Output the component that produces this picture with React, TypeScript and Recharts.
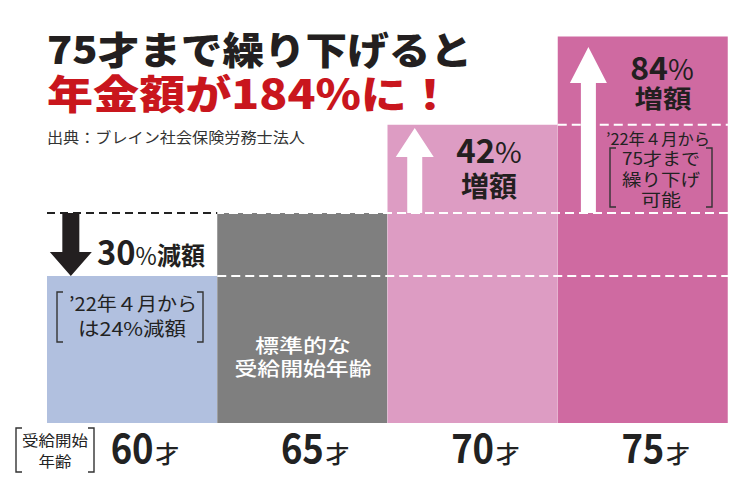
import React from 'react';
import { BarChart, Bar, XAxis, YAxis, Cell, ReferenceLine } from 'recharts';

// pension level (%) by the age you start receiving it
const ages = [60, 65, 70, 75];
const pension = [70, 100, 142, 184];
const barColors = ['#b1c0df', '#7f7f7f', '#dd9cc3', '#cf6aa1'];

// arrows: x position (age units), from value, to value
const arrowX = [58.2, 68.3, 73.4];
const arrowFrom = [100, 100, 100];
const arrowTo = [70, 140.5, 179];

const FONT = "'Noto Sans CJK JP', 'Noto Sans', sans-serif";
const data = ages.map((age, i) => ({ age, value: pension[i] }));

const AgeTick = (props: any) => {
  const { x, y, payload } = props;
  return (
    <g>
      <text x={x} y={y + 40} textAnchor="middle" fontSize={40} fontWeight={700} fill="#222" fontFamily={FONT}
        textLength={43} lengthAdjust="spacingAndGlyphs">
        {payload.value}
      </text>
      <text x={x + 23} y={y + 40} fontSize={24} fontWeight={500} fill="#222" fontFamily={FONT}>才</text>
    </g>
  );
};

const makeArrow = (color: string, shaft: number, head: number, headLen: number) => (p: any) => {
  const { x1, y1, x2, y2 } = p;
  const dir = y2 > y1 ? 1 : -1;
  const base = y2 - dir * headLen;
  const pts = [
    [x1 - shaft / 2, y1], [x1 + shaft / 2, y1], [x1 + shaft / 2, base], [x1 + head / 2, base],
    [x2, y2], [x1 - head / 2, base], [x1 - shaft / 2, base],
  ].map((q) => q.join(',')).join(' ');
  return <polygon points={pts} fill={color} />;
};

const Bracket = ({ x1, x2, y1, y2 }: any) => (
  <g fill="none" stroke="#333" strokeWidth={1.4}>
    <path d={`M${x1 + 6},${y1} H${x1} V${y2} H${x1 + 6}`} />
    <path d={`M${x2 - 6},${y1} H${x2} V${y2} H${x2 - 6}`} />
  </g>
);

export default function App() {
  return (
    <div style={{ position: 'absolute', left: 0, top: 0, width: 750, height: 500, background: '#fff', fontFamily: FONT }}>
      <BarChart width={750} height={500} data={data} margin={{ top: 3, right: 22, left: 47, bottom: 0 }} barCategoryGap={0} barGap={0}>
        <XAxis dataKey="age" type="number" domain={[57.5, 77.5]} ticks={ages} interval={0} height={77}
          axisLine={false} tickLine={false} tickSize={0} tickMargin={0} tick={<AgeTick />} />
        <YAxis hide domain={[0, 200]} />
        <Bar dataKey="value" isAnimationActive={false}>
          {data.map((d, i) => <Cell key={d.age} fill={barColors[i]} />)}
        </Bar>
        <ReferenceLine y={100} stroke="#fff" strokeWidth={2} strokeDasharray="9 5" />
        <ReferenceLine segment={[{ x: 57.5, y: 100 }, { x: 62.5, y: 100 }]} stroke="#222" strokeWidth={2} strokeDasharray="8 5" />
        <ReferenceLine segment={[{ x: 62.5, y: 70 }, { x: 77.5, y: 70 }]} stroke="#fff" strokeWidth={2} strokeDasharray="9 5" />
        <ReferenceLine segment={[{ x: 72.5, y: 142 }, { x: 77.5, y: 142 }]} stroke="#fff" strokeWidth={2} strokeDasharray="9 5" />
        <ReferenceLine segment={[{ x: arrowX[0], y: arrowFrom[0] }, { x: arrowX[0], y: arrowTo[0] }]} shape={makeArrow('#231f20', 17, 42, 24)} />
        <ReferenceLine segment={[{ x: arrowX[1], y: arrowFrom[1] }, { x: arrowX[1], y: arrowTo[1] }]} shape={makeArrow('#fff', 15, 38, 29)} />
        <ReferenceLine segment={[{ x: arrowX[2], y: arrowFrom[2] }, { x: arrowX[2], y: arrowTo[2] }]} shape={makeArrow('#fff', 15, 37, 36)} />
      </BarChart>
      <svg width={750} height={500} style={{ position: 'absolute', left: 0, top: 0, pointerEvents: 'none' }} fontFamily={FONT}>
        <text x={47} y={64} fontSize={38} fontWeight={900} fill="#231f20" textLength={425} lengthAdjust="spacingAndGlyphs">75才まで繰り下げると</text>
        <text x={47} y={109} fontSize={40} fontWeight={900} fill="#c9161d" textLength={406} lengthAdjust="spacingAndGlyphs">年金額が184%に！</text>
        <text x={47} y={143} fontSize={15} fill="#333" textLength={258} lengthAdjust="spacingAndGlyphs">出典：ブレイン社会保険労務士法人</text>

        <text x={97} y={265} fill="#231f20" fontWeight={700} textLength={108} lengthAdjust="spacingAndGlyphs">
          <tspan fontSize={34}>30</tspan><tspan fontSize={24} fontWeight={400}>%</tspan><tspan fontSize={25}>減額</tspan>
        </text>
        <Bracket x1={57} x2={203} y1={292} y2={342} />
        <text x={133} y={311} fontSize={19} fill="#222" textAnchor="middle" textLength={128} lengthAdjust="spacingAndGlyphs">’22年４月から</text>
        <text x={132} y={336} fontSize={19} fill="#222" textAnchor="middle" textLength={108} lengthAdjust="spacingAndGlyphs">は24%減額</text>

        <text x={303} y={353} fontSize={19} fontWeight={500} fill="#fff" textAnchor="middle" textLength={96} lengthAdjust="spacingAndGlyphs">標準的な</text>
        <text x={303} y={376} fontSize={19} fontWeight={500} fill="#fff" textAnchor="middle" textLength={137} lengthAdjust="spacingAndGlyphs">受給開始年齢</text>

        <text x={489} y={163} fill="#231f20" fontWeight={700} textAnchor="middle">
          <tspan fontSize={33}>42</tspan><tspan fontSize={29} fontWeight={400}>%</tspan>
        </text>
        <text x={489} y={197} fontSize={28} fontWeight={700} fill="#231f20" textAnchor="middle">増額</text>

        <text x={662} y={80} fill="#231f20" fontWeight={700} textAnchor="middle">
          <tspan fontSize={32}>84</tspan><tspan fontSize={28} fontWeight={400}>%</tspan>
        </text>
        <text x={663} y={108} fontSize={25} fontWeight={700} fill="#231f20" textAnchor="middle" textLength={57} lengthAdjust="spacingAndGlyphs">増額</text>

        <Bracket x1={610} x2={712} y1={148} y2={207} />
        <text x={658} y={145} fontSize={16} fill="#222" textAnchor="middle" textLength={104} lengthAdjust="spacingAndGlyphs">’22年４月から</text>
        <text x={661} y={165} fontSize={17} fill="#222" textAnchor="middle" textLength={78} lengthAdjust="spacingAndGlyphs">75才まで</text>
        <text x={661} y={186} fontSize={17} fill="#222" textAnchor="middle" textLength={78} lengthAdjust="spacingAndGlyphs">繰り下げ</text>
        <text x={661} y={206} fontSize={17} fill="#222" textAnchor="middle" textLength={40} lengthAdjust="spacingAndGlyphs">可能</text>

        <Bracket x1={16} x2={94} y1={428} y2={472} />
        <text x={55} y={446} fontSize={15} fill="#222" textAnchor="middle" textLength={66} lengthAdjust="spacingAndGlyphs">受給開始</text>
        <text x={55} y={467} fontSize={15} fill="#222" textAnchor="middle" textLength={33} lengthAdjust="spacingAndGlyphs">年齢</text>
      </svg>
    </div>
  );
}
